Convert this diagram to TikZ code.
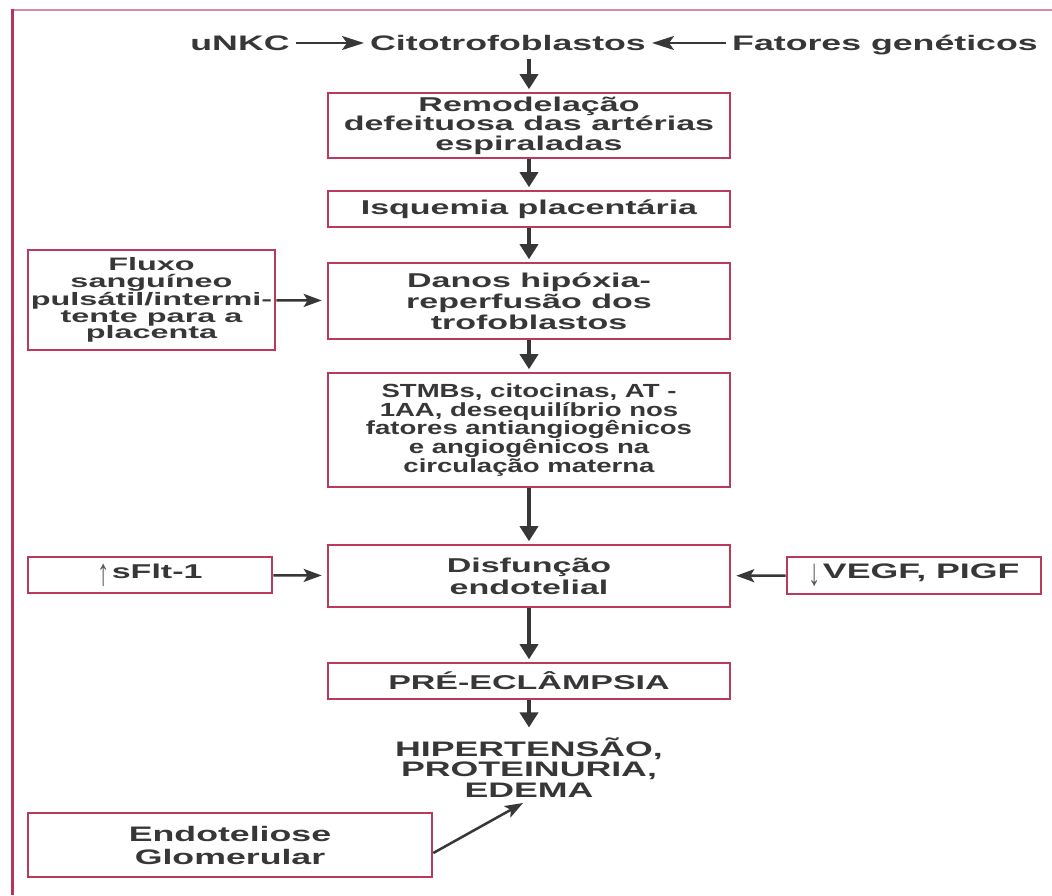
\documentclass[tikz,border=0pt]{standalone}
\usepackage{fontspec}
\usepackage{graphicx}
\setmainfont{Liberation Sans}
\newfontfamily\fA{Liberation Sans}[FakeStretch=1.7]
\newfontfamily\fB{Liberation Sans}[FakeStretch=1.45]
\newfontfamily\fC{Liberation Sans}[FakeStretch=1.8]
\newfontfamily\fArr{Liberation Sans}
\usetikzlibrary{arrows.meta}
\definecolor{boxred}{RGB}{186,58,92}
\definecolor{framered}{RGB}{184,52,88}
\definecolor{framepink}{RGB}{214,140,160}
\definecolor{txt}{RGB}{55,55,55}
\definecolor{arrgray}{RGB}{90,90,90}
\newcommand{\updn}[1]{\raisebox{-7pt}{\scalebox{0.65}[1]{\fArr\mdseries\fontsize{38}{38}\selectfont\color{arrgray}#1}}\hspace{2pt}}
\begin{document}
\begin{tikzpicture}[x=1pt,y=-1pt,
  box/.style={draw=boxred, line width=2.6pt, fill=white, align=center, inner sep=0pt, text=txt,
    font=\fA\bfseries\fontsize{20}{19.5}\selectfont},
  lbl/.style={align=center, inner sep=0pt, text=txt, font=\fA\bfseries\fontsize{21}{20.5}\selectfont},
  toplbl/.style={lbl, inner xsep=6pt, inner ysep=8pt, text height=15pt, text depth=0pt},
  vflow/.style={-{Triangle[length=15pt,width=18pt]}, line width=3.5pt, draw=txt, shorten >=2.5pt},
  hflow/.style={-{Stealth[length=18pt,width=13pt,inset=4pt]}, line width=2.5pt, draw=txt},
  tflow/.style={-{Stealth[length=22pt,width=14pt,inset=5pt]}, line width=2pt, draw=txt}]
\useasboundingbox (0,0) rectangle (1052,895);
\fill[white] (0,0) rectangle (1052,895);
% frame
\draw[framepink, line width=2pt] (12,10) -- (1052,10);
\draw[framered, line width=3pt] (12,9) -- (12,895);

% top row
\node[toplbl] (unkc) at (240,43) {uNKC};
\node[toplbl] (cito) at (508,43) {Citotrofoblastos};
\node[toplbl] (fat) at (885,43) {Fatores genéticos};

% main column
\node[box, minimum width=402pt, minimum height=65pt] (b1) at (529,125.5) {Remodelação\\defeituosa das artérias\\espiraladas};
\node[box, minimum width=402pt, minimum height=36pt] (b2) at (529,209) {Isquemia placentária};
\node[box, minimum width=402pt, minimum height=76pt, font=\fA\bfseries\fontsize{20}{21}\selectfont] (b3) at (529,301) {Danos hipóxia-\\reperfusão dos\\trofoblastos};
\node[box, minimum width=402pt, minimum height=114pt, font=\fB\bfseries\fontsize{19}{18.8}\selectfont] (b4) at (529,430) {STMBs, citocinas, AT -\\1AA, desequilíbrio nos\\fatores antiangiogênicos\\e angiogênicos na\\circulação materna};
\node[box, minimum width=402pt, minimum height=62pt, font=\fA\bfseries\fontsize{20}{22}\selectfont] (b5) at (529,576) {Disfunção\\endotelial};
\node[box, minimum width=402pt, minimum height=36pt] (b6) at (529,681) {PRÉ-ECLÂMPSIA};
\node[lbl] (res) at (529,767.5) {HIPERTENSÃO,\\PROTEINURIA,\\EDEMA};

% side boxes
\node[box, minimum width=247pt, minimum height=100pt, font=\fC\bfseries\fontsize{18}{16.8}\selectfont] (flux) at (151.5,300) {Fluxo\\sanguíneo\\pulsátil/intermi-\\tente para a\\placenta};
\node[box, minimum width=244pt, minimum height=36pt, font=\fA\bfseries\fontsize{20}{20}\selectfont] (sflt) at (150,575) {\updn{↑}sFlt-1};
\node[box, minimum width=254pt, minimum height=37pt, font=\fA\bfseries\fontsize{21}{21}\selectfont] (vegf) at (914,575.5) {\updn{↓}VEGF, PIGF};
\node[box, minimum width=404pt, minimum height=64pt, font=\fA\bfseries\fontsize{21}{23}\selectfont] (endo) at (230,845) {Endoteliose\\Glomerular};
\coordinate (endotip) at (523,803);

% connectors
\draw[tflow] (unkc) -- (cito);
\draw[tflow] (fat) -- (cito);
\draw[vflow] (b1.north |- cito.south) -- (b1);
\draw[vflow] (b1) -- (b2);
\draw[vflow] (b2) -- (b3);
\draw[vflow] (b3) -- (b4);
\draw[vflow] (b4) -- (b5);
\draw[vflow] (b5) -- (b6);
\draw[vflow, shorten >=10pt] (b6) -- (res);
\draw[hflow, shorten >=5pt] (flux) -- (b3);
\draw[hflow, shorten >=5pt] (sflt) -- (b5);
\draw[hflow, shorten >=5pt] (vegf) -- (b5);
\draw[hflow] ([yshift=-8pt]endo.east) -- (endotip);
\end{tikzpicture}
\end{document}
